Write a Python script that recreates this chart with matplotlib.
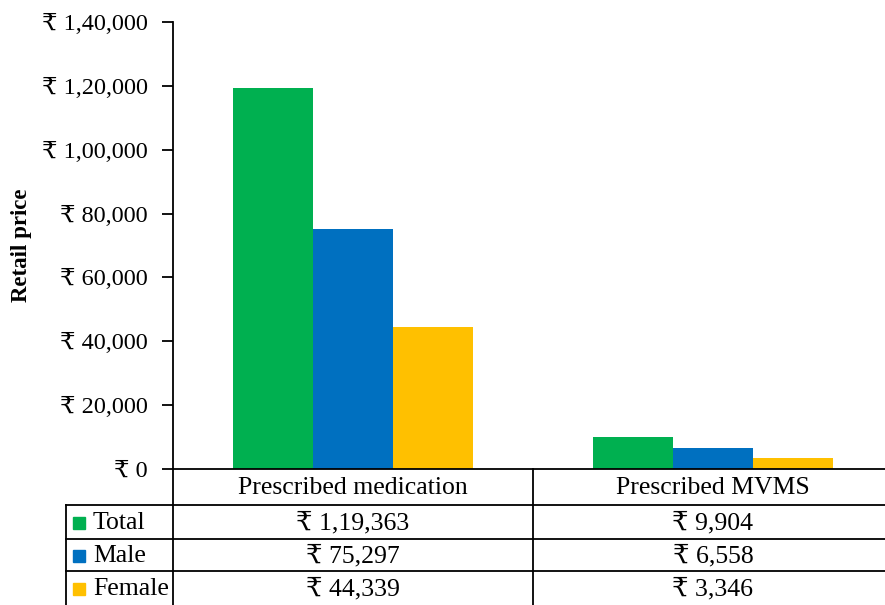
import matplotlib
matplotlib.use("Agg")
import matplotlib.pyplot as plt
import numpy as np
from matplotlib.transforms import blended_transform_factory

plt.rcParams['font.family'] = ['Liberation Serif', 'DejaVu Serif', 'DejaVu Sans']

categories = ["Prescribed medication", "Prescribed MVMS"]
series_names = ["Total", "Male", "Female"]
total = [119363, 9904]
male = [75297, 6558]
female = [44339, 3346]
colors = ["#00B050", "#0070C0", "#FFC000"]
yticks = [0, 20000, 40000, 60000, 80000, 100000, 120000, 140000]


def inr(v):
    # Indian digit grouping: 1,19,363
    s = str(int(v))
    if len(s) <= 3:
        return "₹ " + s
    head, tail = s[:-3], s[-3:]
    parts = []
    while len(head) > 2:
        parts.insert(0, head[-2:])
        head = head[:-2]
    if head:
        parts.insert(0, head)
    return "₹ " + ",".join(parts + [tail])


W, H = 885, 605
fig = plt.figure(figsize=(W / 100, H / 100), dpi=100)
ax = fig.add_axes([173 / W, (H - 469) / H, 720 / W, 447 / H])

series = [total, male, female]
x = np.arange(len(categories))
bw = 80 / 360
for i, (name, vals) in enumerate(zip(series_names, series)):
    ax.bar(x + (i - 1) * bw, vals, bw, color=colors[i], label=name)

ax.set_xlim(-0.5, 1.5)
ax.set_ylim(0, 140000)
ax.set_yticks(yticks)
ax.set_yticklabels([inr(t) for t in yticks], fontsize=17.5)
ax.set_xticks([])
for s in ["top", "right", "bottom"]:
    ax.spines[s].set_visible(False)
ax.spines["left"].set_linewidth(1.3)
ax.tick_params(axis="y", length=8, width=1.3, pad=10)


def fy(py):
    return (H - py) / H


fig.text(22 / W, fy(245), "Retail price", rotation=90, ha="center", va="center",
         fontsize=16.5, fontweight="bold")

# data table under the axes
tr = blended_transform_factory(ax.transData, fig.transFigure)
fs = 18.5
lw = 1.3
row_edges = [469, 505, 539, 571, 605]
# horizontal lines
ax.plot([-0.5, 1.5], [fy(469)] * 2, color="black", lw=lw, transform=tr, clip_on=False)
for py in row_edges[1:4]:
    fig.add_artist(plt.Line2D([66 / W, 1], [fy(py)] * 2, color="black", lw=lw))
# vertical lines
fig.add_artist(plt.Line2D([66 / W] * 2, [fy(505), 0], color="black", lw=lw))
ax.plot([-0.5, -0.5], [fy(469), 0], color="black", lw=lw, transform=tr, clip_on=False)
ax.plot([0.5, 0.5], [fy(469), 0], color="black", lw=lw, transform=tr, clip_on=False)

for j, cat in enumerate(categories):
    ax.text(j, fy(488), cat, transform=tr, ha="center", va="center", fontsize=fs)
for i, vals in enumerate(series):
    yc = fy((row_edges[i + 1] + row_edges[i + 2]) / 2 + 1)
    for j, v in enumerate(vals):
        ax.text(j, yc, inr(v), transform=tr, ha="center", va="center", fontsize=fs)
    fig.add_artist(plt.Rectangle((73 / W, yc - 6 / H), 12 / W, 12 / H,
                                 color=colors[i], transform=fig.transFigure))
    fig.text(93 / W, yc, series_names[i], ha="left", va="center", fontsize=fs)

fig.savefig("out.png", dpi=100)
